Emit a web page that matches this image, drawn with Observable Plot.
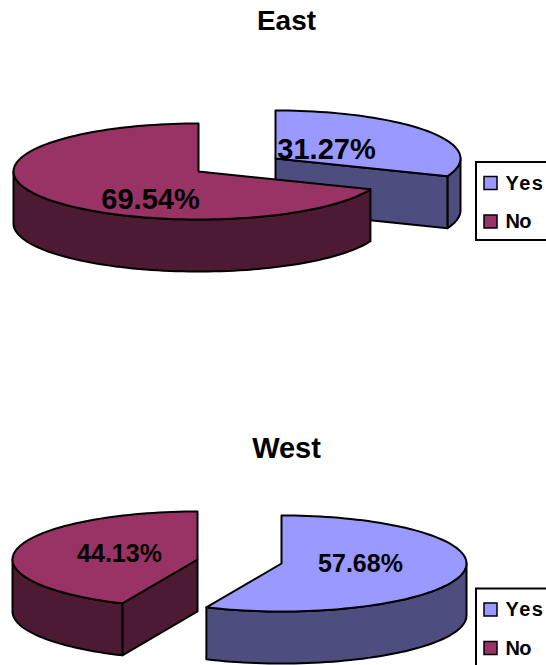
<!DOCTYPE html>
<html>
<head>
<meta charset="utf-8">
<script src="https://cdn.jsdelivr.net/npm/d3@7"></script>
<script src="https://cdn.jsdelivr.net/npm/@observablehq/plot@0.6"></script>
<style>html,body{margin:0;padding:0;background:#fff;overflow:hidden}svg{display:block}</style>
</head>
<body>
<div id="chart"></div>
<script>
const categories = ["Yes", "No"];
const eastValues = [31.27, 69.54];
const westValues = [57.68, 44.13];
const colors = {Yes: "#9999ff", No: "#993366"};
const sideColors = {Yes: "#4d4d80", No: "#4d1a33"};

// Layout of the tilted, exploded pies
const RX = 185, RY = 48, DEPTH = 52;
const eastCenters = {Yes: [275, 158], No: [198, 171]};
const westCenters = {Yes: [281, 563], No: [197, 559]};

const rad = (d) => (d * Math.PI) / 180;
const pt = (c, a, dz = 0) => ({x: c[0] + RX * Math.sin(rad(a)), y: c[1] - RY * Math.cos(rad(a)) + dz});
const arc = (c, a0, a1, dz = 0) => {
  const n = Math.max(2, Math.ceil(Math.abs(a1 - a0) / 2));
  return d3.range(n + 1).map((i) => pt(c, a0 + ((a1 - a0) * i) / n, dz));
};
const P = (points, fill, strokeWidth = 2) =>
  Plot.line([...points, points[0]], {x: "x", y: "y", fill, stroke: "black", strokeWidth, strokeLinejoin: "round"});

function pie(values, centers) {
  const total = d3.sum(values);
  const split = (values[0] / total) * 360; // Yes runs from 12 o'clock clockwise, then No
  const cy = centers.Yes, cn = centers.No;
  const cPt = (c, dz = 0) => ({x: c[0], y: c[1] + dz});
  const marks = [];
  // Yes: outer wall, then its visible cut face
  const yWallEnd = Math.min(split, 270);
  marks.push(P([...arc(cy, 90, yWallEnd), ...arc(cy, yWallEnd, 90, DEPTH)], sideColors.Yes));
  if (split < 180) {
    marks.push(P([cPt(cy), pt(cy, split), pt(cy, split, DEPTH), cPt(cy, DEPTH)], sideColors.Yes));
  }
  marks.push(P([cPt(cy), ...arc(cy, 0, split)], colors.Yes));
  // No: cut face when it looks at the viewer, wall, top
  if (split >= 180) {
    marks.push(P([cPt(cn), pt(cn, split), pt(cn, split, DEPTH), cPt(cn, DEPTH)], sideColors.No));
  }
  marks.push(P([...arc(cn, split, 270), ...arc(cn, 270, split, DEPTH)], sideColors.No));
  marks.push(P([cPt(cn), ...arc(cn, split, 360)], colors.No));
  return marks;
}

const fmt = (v) => v.toFixed(2) + "%";
const txt = (s, x, y, size) =>
  Plot.text([s], {x: () => x, y: () => y, text: (d) => d, fontSize: size, fontWeight: "bold",
    fill: "black", textAnchor: "middle", lineAnchor: "middle", fontFamily: "Liberation Sans"});

function legend(top) {
  return [
    Plot.rect([0], {x1: () => 476, x2: () => 560, y1: () => top, y2: () => top + 78, fill: "white", stroke: "black", strokeWidth: 2}),
    ...categories.flatMap((c, i) => {
      const yc = top + 21 + i * 38.5;
      return [
        Plot.rect([c], {x1: () => 484, x2: () => 497, y1: () => yc - 6.5, y2: () => yc + 6.5, fill: colors[c], stroke: "black", strokeWidth: 1.5}),
        Plot.text([c], {x: () => 505, y: () => yc, text: (d) => d, fontSize: 20, fontWeight: "bold", fill: "black",
          textAnchor: "start", lineAnchor: "middle", fontFamily: "Liberation Sans", className: "legend-" + c})
      ];
    })
  ];
}

const chart = Plot.plot({
  width: 546, height: 665, margin: 0,
  style: {background: "white", overflow: "hidden"},
  x: {domain: [0, 546], range: [0, 546], axis: null},
  y: {domain: [0, 665], range: [0, 665], axis: null},
  marks: [
    txt("East", 286, 21, 28),
    ...pie(eastValues, eastCenters),
    txt(fmt(eastValues[0]), 326, 149, 29),
    txt(fmt(eastValues[1]), 150, 199, 29),
    ...legend(162),
    txt("West", 286, 448, 29),
    ...pie(westValues, westCenters),
    txt(fmt(westValues[1]), 119, 553, 25),
    txt(fmt(westValues[0]), 360, 563, 25),
    ...legend(588.5)
  ]
});
document.getElementById("chart").append(chart);
d3.select(chart).selectAll(".legend-Yes text").style("letter-spacing", "1.5px");
d3.select(chart).selectAll(".legend-No text").style("letter-spacing", "-0.8px");
</script>
</body>
</html>
